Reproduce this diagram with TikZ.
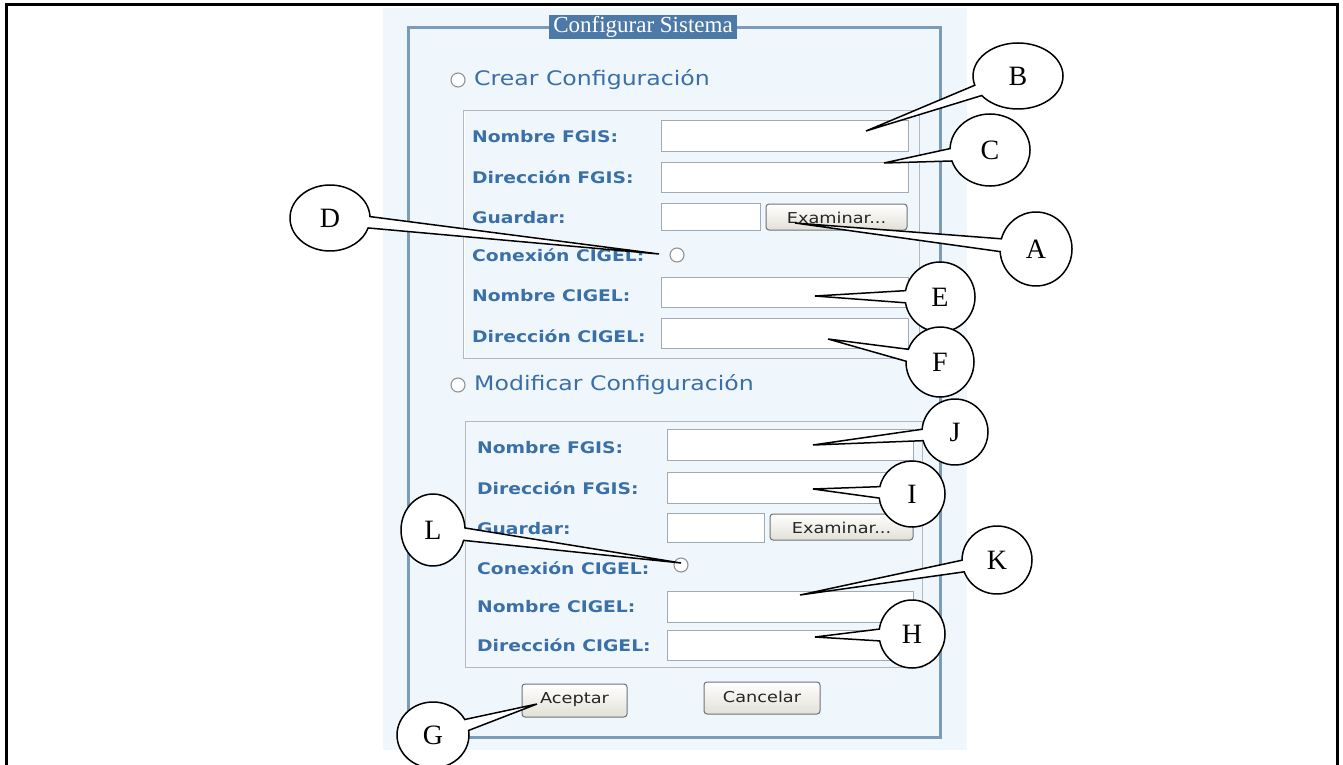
\documentclass[tikz,border=0pt]{standalone}
\usepackage{fontspec}
\setmainfont{Liberation Serif}
\newfontfamily\uifont{DejaVu Sans}
\usepackage{graphicx}
\usetikzlibrary{shapes.callouts}
\definecolor{bgblue}{HTML}{EFF6FC}
\definecolor{fsline}{HTML}{7C9BB6}
\definecolor{titlebg}{HTML}{4D79A7}
\definecolor{lblue}{HTML}{3A6FA8}
\definecolor{secline}{HTML}{B4B8BC}
\definecolor{inborder}{HTML}{A3AAB1}
\definecolor{btnborder}{HTML}{6F7378}
\definecolor{btnbottom}{HTML}{E2E0D6}
\newcommand\sx[1]{\scalebox{1.18}[1]{#1}}
\newcommand\lx[1]{\scalebox{1.17}[1]{#1}}
\tikzset{
  lbl/.style={anchor=west, inner sep=0pt, text=lblue, font=\uifont\bfseries\fontsize{16}{16}\selectfont},
  head/.style={anchor=west, inner sep=0pt, text=lblue, font=\uifont\fontsize{20}{20}\selectfont},
  inbox/.style={draw=inborder, fill=white, line width=1pt},
  secbox/.style={draw=secline, line width=1pt},
  btn/.style={draw=btnborder, rounded corners=3pt, top color=white, bottom color=btnbottom, line width=1pt},
  btntxt/.style={inner sep=0pt, text=black!85, font=\uifont\fontsize{15}{15}\selectfont},
  radio/.style={circle, draw=gray!85, fill=white, minimum size=14pt, inner sep=0pt, line width=1.1pt},
  call/.style={ellipse callout, draw=black, fill=white, line width=1.5pt, inner sep=0pt,
    font=\fontsize{28}{28}\selectfont, callout pointer arc=20},
}
\begin{document}
\begin{tikzpicture}[x=1pt,y=-1pt]
\useasboundingbox (0,0) rectangle (1343,765);
% outer frame
\draw[line width=3pt] (6,767) -- (6,5) -- (1337,5) -- (1337,767);
% screenshot background
\fill[bgblue] (383,8) rectangle (967,750);
\draw[fsline, line width=3pt] (408,28) rectangle (940,737);
\node[fill=titlebg, text=white, inner sep=0pt, minimum width=188pt, minimum height=24pt,
  font=\fontsize{23}{23}\selectfont] (title) at (643,27) {Configurar Sistema};

% ---- Crear Configuracion
\node[radio] (r1) at (458,80) {};
\node[head] (h1) at (474,80) {\sx{Crear Configuración}};
\draw[secbox] (463,111) rectangle (919,358);
\draw[white, line width=1pt] (464.5,112.5) -- (464.5,356.5);
\node[lbl] (a1) at (472,137) {\lx{Nombre FGIS:}};
\node[lbl] (a2) at (472,177) {\lx{Dirección FGIS:}};
\node[lbl] (a3) at (472,218) {\lx{Guardar:}};
\node[lbl] (a4) at (472,255) {\lx{Conexión CIGEL:}};
\node[lbl] (a5) at (472,296) {\lx{Nombre CIGEL:}};
\node[lbl] (a6) at (472,336) {\lx{Dirección CIGEL:}};
\path[inbox] (661,121) rectangle (908,151);
\path[inbox] (661,162) rectangle (908,192);
\path[inbox] (661,203) rectangle (760,230);
\path[btn] (766,204) rectangle (907,230);
\node[btntxt] (ex1) at (836.5,218) {\sx{Examinar...}};
\node[radio] (r2) at (677,255) {};
\path[inbox] (661,277) rectangle (908,307);
\path[inbox] (661,318) rectangle (908,348);

% ---- Modificar Configuracion
\node[radio] (r3) at (458,385) {};
\node[head] (h2) at (474,385) {\sx{Modificar Configuración}};
\draw[secbox] (465,421) rectangle (922,667);
\node[lbl] (b1) at (477,448) {\lx{Nombre FGIS:}};
\node[lbl] (b2) at (477,488) {\lx{Dirección FGIS:}};
\node[lbl] (b3) at (477,529) {\lx{Guardar:}};
\node[lbl] (b4) at (477,568) {\lx{Conexión CIGEL:}};
\node[lbl] (b5) at (477,607) {\lx{Nombre CIGEL:}};
\node[lbl] (b6) at (477,645) {\lx{Dirección CIGEL:}};
\path[inbox] (667,429) rectangle (913,460);
\path[inbox] (667,472) rectangle (913,503);
\path[inbox] (667,513) rectangle (764,542);
\path[btn] (770,514) rectangle (913,540);
\node[btntxt] (ex2) at (841.5,528) {\sx{Examinar...}};
\node[radio] (r4) at (681,565) {};
\path[inbox] (667,591) rectangle (913,622);
\path[inbox] (667,630) rectangle (913,660);

% buttons
\path[btn] (522,684) rectangle (627,717);
\node[btntxt] (ok) at (574.5,700) {\sx{Aceptar}};
\path[btn] (704,682) rectangle (820,714);
\node[btntxt] (cancel) at (762,697) {\sx{Cancelar}};

% callout targets
\coordinate (pB) at (866,131);
\coordinate (pC) at (884,163);
\coordinate (pA) at (795,223);
\coordinate (pD) at (659,254);
\coordinate (pE) at (815,296);
\coordinate (pF) at (828,339);
\coordinate (pJ) at (813,445);
\coordinate (pI) at (813,489);
\coordinate (pL) at (681,563);
\coordinate (pK) at (800,595);
\coordinate (pH) at (815,637);
\coordinate (pG) at (537,704);

% callouts
\node[call, minimum width=90pt, minimum height=66pt, callout absolute pointer={(pB)}] (B) at (1018,76) {B};
\node[call, minimum width=80pt, minimum height=72pt, callout absolute pointer={(pC)}] (C) at (990,150) {C};
\node[call, minimum width=72pt, minimum height=74pt, callout absolute pointer={(pA)}] (A) at (1036,249) {A};
\node[call, minimum width=80pt, minimum height=66pt, callout absolute pointer={(pD)}] (D) at (330,218) {D};
\node[call, minimum width=70pt, minimum height=70pt, callout absolute pointer={(pE)}] (E) at (940,297) {E};
\node[call, minimum width=68pt, minimum height=70pt, callout absolute pointer={(pF)}] (F) at (940,362) {F};
\node[call, minimum width=66pt, minimum height=66pt, callout absolute pointer={(pJ)}] (J) at (955,432) {J};
\node[call, minimum width=66pt, minimum height=66pt, callout absolute pointer={(pI)}] (I) at (912,494) {I};
\node[call, minimum width=64pt, minimum height=72pt, callout absolute pointer={(pL)}] (L) at (433,530) {L};
\node[call, minimum width=70pt, minimum height=68pt, callout absolute pointer={(pK)}] (K) at (997,560) {K};
\node[call, minimum width=66pt, minimum height=68pt, callout absolute pointer={(pH)}] (H) at (912,634) {H};
\node[call, minimum width=72pt, minimum height=66pt, callout absolute pointer={(pG)}] (G) at (433,735) {G};
\end{tikzpicture}
\end{document}
